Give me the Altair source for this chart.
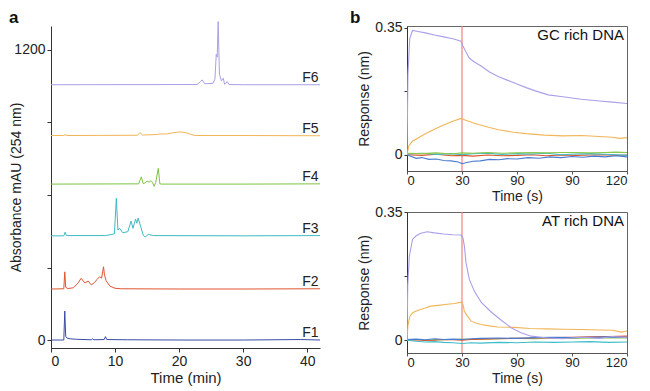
import altair as alt
import pandas as pd

FONT = "Liberation Sans"

# ---------------- Panel a: HPLC chromatograms (time in min, absorbance mAU, stacked) -------------
hplc_names = ["F1", "F2", "F3", "F4", "F5", "F6"]
hplc_colors = ["#3b4ba6", "#e0552e", "#3fb9c2", "#7dc444", "#f2b558", "#aa9fe8"]

f1_t = [0, 2.0, 2.15, 2.3, 2.5, 3.0, 4.0, 6.3, 6.5, 6.7, 8.3, 8.5, 8.7, 12, 20, 30, 39, 42]
f1_v = [0, 0, 120, 15, 8, 5, 3, 1, 5, 1, 2, 14, 2, 1, 0, 0, 2, 0]

f2_t = [0, 2.0, 2.15, 2.3, 2.6, 3.5, 4.2, 4.7, 5.3, 5.8, 6.3, 6.8, 7.2, 7.6, 7.9, 8.2, 8.35, 8.6, 9.2, 10.0, 11, 20, 30, 42]
f2_v = [211, 212, 282, 218, 213, 216, 235, 255, 236, 244, 228, 238, 251, 262, 256, 303, 270, 245, 223, 214, 212, 211, 211, 212]

f3_t = [0, 2.0, 2.2, 2.4, 8.5, 9.5, 9.9, 10.2, 10.45, 10.7, 11.2, 12.0, 12.5, 12.8, 13.2, 13.4, 13.6, 14.0, 14.4, 14.7, 15.2, 16, 30, 42]
f3_v = [431, 431, 446, 432, 432, 437, 440, 586, 455, 462, 444, 448, 492, 462, 500, 483, 504, 469, 434, 426, 437, 432, 431, 432]

f4_t = [0, 13.7, 14.1, 14.4, 14.7, 15.0, 15.3, 15.6, 15.85, 16.1, 16.35, 16.75, 17.0, 17.3, 30, 42]
f4_v = [645, 646, 675, 647, 650, 658, 653, 659, 652, 636, 652, 710, 646, 645, 645, 646]

f5_t = [0, 2.0, 2.2, 2.5, 13.5, 13.9, 14.3, 16.5, 17.2, 18.0, 19.0, 20.1, 21.0, 21.8, 22.5, 30, 42]
f5_v = [846, 846, 850, 846, 847, 858, 848, 850, 853, 852, 857, 861, 858, 851, 846, 846, 845]

f6_t = [0, 22.8, 23.3, 23.6, 24.0, 25.3, 25.6, 25.8, 25.95, 26.1, 26.3, 26.6, 26.9, 27.1, 27.3, 27.5, 27.8, 30, 42]
f6_v = [1056, 1057, 1068, 1076, 1060, 1062, 1080, 1182, 1170, 1317, 1100, 1072, 1083, 1058, 1062, 1069, 1057, 1056, 1056]

hplc_t = [f1_t, f2_t, f3_t, f4_t, f5_t, f6_t]
hplc_v = [f1_v, f2_v, f3_v, f4_v, f5_v, f6_v]

label_time = 40.5
label_level = [0, 211, 431, 645, 846, 1056]

a_xticks = [0, 10, 20, 30, 40]
a_yticks = [0, 300, 600, 900, 1200]

# ---------------- Panel b: binding sensorgrams (time in s, response in nm) -------------
b_colors = {"F1": "#4a7bd2", "F2": "#d9532c", "F3": "#3dbdc9", "F4": "#8cc84b", "F5": "#f2b558", "F6": "#aa9fe8"}

gc_f6_t = [0, 0.5, 1.5, 3, 6, 10, 15, 20, 25, 29.5, 30.5, 32, 34, 37, 40, 45, 50, 55, 60, 65, 70, 77, 85, 95, 105, 112, 120]
gc_f6_v = [0.0, 0.22, 0.32, 0.343, 0.34, 0.336, 0.33, 0.325, 0.32, 0.313, 0.3, 0.285, 0.266, 0.255, 0.246, 0.228, 0.215, 0.205, 0.195, 0.185, 0.176, 0.165, 0.16, 0.153, 0.148, 0.145, 0.141]
gc_f5_t = [0, 1, 3, 6, 10, 15, 20, 25, 29.5, 32, 36, 40, 45, 50, 58, 65, 75, 85, 95, 105, 112, 116, 120]
gc_f5_v = [0.0, 0.025, 0.037, 0.046, 0.058, 0.07, 0.082, 0.092, 0.1, 0.095, 0.088, 0.082, 0.075, 0.069, 0.062, 0.058, 0.054, 0.052, 0.053, 0.05, 0.048, 0.045, 0.047]
gc_f1_t = [0, 2, 5, 8, 12, 16, 20, 24, 28, 30, 32, 36, 40, 45, 50, 55, 60, 66, 72, 78, 84, 90, 96, 102, 108, 114, 120]
gc_f1_v = [0.0, -0.004, -0.01, -0.008, -0.013, -0.012, -0.016, -0.017, -0.02, -0.025, -0.022, -0.018, -0.017, -0.013, -0.014, -0.011, -0.012, -0.008, -0.01, -0.006, -0.008, -0.005, -0.007, -0.004, -0.006, -0.003, -0.006]
gc_small_t = [0, 8, 16, 24, 30, 36, 44, 52, 60, 68, 76, 84, 92, 100, 108, 114, 120]
gc_f4_v = [0.004, 0.003, 0.005, 0.002, 0.005, 0.004, 0.006, 0.004, 0.005, 0.006, 0.005, 0.006, 0.006, 0.005, 0.006, 0.007, 0.006]
gc_f3_v = [0.002, 0.004, 0.001, 0.003, 0.0, 0.003, 0.004, 0.001, 0.003, 0.002, 0.004, 0.0, 0.002, 0.003, 0.001, 0.0, -0.002]
gc_f2_v = [0.0, -0.002, 0.001, -0.003, -0.002, -0.004, -0.001, -0.003, -0.002, 0.0, -0.003, -0.001, -0.002, -0.001, 0.0, -0.002, -0.001]

at_f6_t = [0, 0.4, 1.3, 3, 5, 7.6, 11, 15, 20, 25, 29.5, 30.5, 31.3, 32.2, 34, 36.7, 40.4, 45.9, 51.3, 56.8, 62.2, 67.7, 76.7, 85, 95, 105, 112, 120]
at_f6_v = [0.0, 0.15, 0.23, 0.275, 0.285, 0.292, 0.296, 0.293, 0.29, 0.288, 0.287, 0.28, 0.257, 0.211, 0.166, 0.134, 0.104, 0.077, 0.055, 0.034, 0.02, 0.011, 0.006, 0.004, 0.008, 0.005, 0.01, 0.007]
at_f5_t = [0, 0.5, 1.5, 3.1, 6, 10, 13, 17, 22, 26, 29.5, 30.5, 31.3, 33, 35, 37.5, 40.4, 45, 49.5, 58.6, 67, 76.7, 85, 95, 105, 112, 117, 120]
at_f5_v = [0.0, 0.04, 0.065, 0.075, 0.082, 0.088, 0.093, 0.095, 0.098, 0.1, 0.104, 0.098, 0.079, 0.065, 0.052, 0.047, 0.043, 0.039, 0.036, 0.035, 0.032, 0.031, 0.03, 0.029, 0.028, 0.027, 0.022, 0.025]
at_small_t = [0, 5, 10, 15, 20, 25, 30, 35, 40, 50, 60, 70, 80, 90, 100, 110, 120]
at_f3_v = [0.0, -0.003, -0.005, -0.004, -0.006, -0.007, -0.009, -0.007, -0.008, -0.006, -0.007, -0.005, -0.006, -0.005, -0.004, -0.006, -0.005]
at_f1_v = [0.002, 0.003, 0.001, 0.004, 0.002, 0.003, 0.002, 0.004, 0.005, 0.006, 0.005, 0.007, 0.008, 0.007, 0.008, 0.009, 0.008]
at_f2_v = [0.0, 0.001, -0.001, 0.0, 0.002, 0.001, 0.0, 0.002, 0.003, 0.004, 0.005, 0.006, 0.007, 0.008, 0.009, 0.01, 0.011]
at_f4_v = [0.001, 0.002, 0.0, 0.002, 0.001, 0.002, 0.003, 0.002, 0.003, 0.004, 0.005, 0.004, 0.006, 0.005, 0.006, 0.007, 0.006]

gc_series = [("F2", gc_small_t, gc_f2_v), ("F3", gc_small_t, gc_f3_v), ("F4", gc_small_t, gc_f4_v),
             ("F1", gc_f1_t, gc_f1_v), ("F5", gc_f5_t, gc_f5_v), ("F6", gc_f6_t, gc_f6_v)]
at_series = [("F4", at_small_t, at_f4_v), ("F2", at_small_t, at_f2_v), ("F1", at_small_t, at_f1_v),
             ("F3", at_small_t, at_f3_v), ("F5", at_f5_t, at_f5_v), ("F6", at_f6_t, at_f6_v)]

b_xticks = [0, 30, 60, 90, 120]
b_yticks = [0, 0.175, 0.35]
injection_end = [30]

# ---------------- build panel a ----------------
AX = "#333333"
ax_a_x = alt.Axis(values=a_xticks, title="Time (min)", grid=False, tickSize=4, labelPadding=2,
                  titlePadding=2, domainColor=AX, tickColor=AX, titleFontSize=15)
ax_a_y = alt.Axis(values=a_yticks, format="d", title="Absorbance mAU (254 nm)", grid=False, tickSize=4,
                  labelPadding=2, domainColor=AX, tickColor=AX,
                  labelExpr="datum.value == 0 || datum.value == 1200 ? datum.label : ''",
                  titleX=-28, titleBaseline="bottom")
xa = alt.X("t:Q", scale=alt.Scale(domain=[0, 42], nice=False), axis=ax_a_x)
ya = alt.Y("v:Q", scale=alt.Scale(domain=[-33, 1299], nice=False, zero=False), axis=ax_a_y)

a_layers = []
for name, color, tt, vv in zip(hplc_names, hplc_colors, hplc_t, hplc_v):
    df = pd.DataFrame({"t": tt, "v": vv})
    a_layers.append(alt.Chart(df).mark_line(color=color, strokeWidth=1, clip=False).encode(x=xa, y=ya))

lab_df = pd.DataFrame({"t": [label_time] * 6, "v": label_level, "name": hplc_names})
a_labels = alt.Chart(lab_df).mark_text(font=FONT, fontSize=14, align="center", baseline="alphabetic",
                                       dy=-3, color="#222").encode(x=xa, y=ya, text="name:N")
a_letter = alt.Chart(pd.DataFrame({"s": ["a"]})).mark_text(
    font=FONT, fontSize=17, fontWeight="bold", align="left", baseline="top", color="#111"
).encode(x=alt.value(-42), y=alt.value(-16), text="s:N")

panel_a = alt.layer(*a_layers, a_labels, a_letter).properties(
    width=269, height=322, view=alt.ViewBackground(stroke="transparent"))

# ---------------- build panel b ----------------
def b_panel(series, h, ydom, label, letter=None):
    ax_x = alt.Axis(values=b_xticks, title="Time (s)", grid=False, tickSize=3, labelPadding=0,
                    titlePadding=2, domainColor="#555", tickColor="#555", titleFontSize=14,
                    labelFontSize=13, labelExpr="datum.value == 60 ? '90' : datum.label")
    ax_y = alt.Axis(values=b_yticks, title="Response (nm)", grid=False, tickSize=3, labelPadding=2,
                    titlePadding=3, domainColor="#333", tickColor="#333",
                    labelExpr="datum.value == 0 ? '0' : (datum.value > 0.3 ? '0.35' : '')")
    xb = alt.X("t:Q", scale=alt.Scale(domain=[0, 120], nice=False), axis=ax_x)
    yb = alt.Y("v:Q", scale=alt.Scale(domain=ydom, nice=False, zero=False), axis=ax_y)
    layers = []
    for name, tt, vv in series:
        df = pd.DataFrame({"t": tt, "v": vv})
        layers.append(alt.Chart(df).mark_line(color=b_colors[name], strokeWidth=1.1, clip=True).encode(x=xb, y=yb))
    rule = alt.Chart(pd.DataFrame({"t": injection_end})).mark_rule(color="#f28080", strokeWidth=1.2).encode(x=xb)
    txt = alt.Chart(pd.DataFrame({"s": [label]})).mark_text(
        font=FONT, fontSize=15, align="right", baseline="middle", color="#111"
    ).encode(x=alt.value(217), y=alt.value(9), text="s:N")
    parts = [rule] + layers + [txt]
    if letter:
        parts.append(alt.Chart(pd.DataFrame({"s": [letter]})).mark_text(
            font=FONT, fontSize=17, fontWeight="bold", align="left", baseline="top", color="#111"
        ).encode(x=alt.value(-57), y=alt.value(-16), text="s:N"))
    return alt.layer(*parts).properties(width=220, height=h,
                                        view=alt.ViewBackground(stroke="#666", strokeWidth=1))

b_top = b_panel(gc_series, 145, [-0.045, 0.355], "GC rich DNA", letter="b")
b_bot = b_panel(at_series, 141, [-0.035, 0.35], "AT rich DNA")

chart = alt.hconcat(panel_a, alt.vconcat(b_top, b_bot, spacing=0), spacing=26).properties(
    padding={"left": 0, "top": 0, "right": 0, "bottom": 0}
).configure(padding={"left": 0, "top": 0, "right": 0, "bottom": 0}).configure_axis(
    labelFont=FONT, titleFont=FONT, labelFontSize=14, titleFontSize=14,
    labelColor="#222", titleColor="#222", titleFontWeight="normal"
).configure_view(stroke=None)

chart.save("out.html", embed_options={"renderer": "svg", "actions": False})
